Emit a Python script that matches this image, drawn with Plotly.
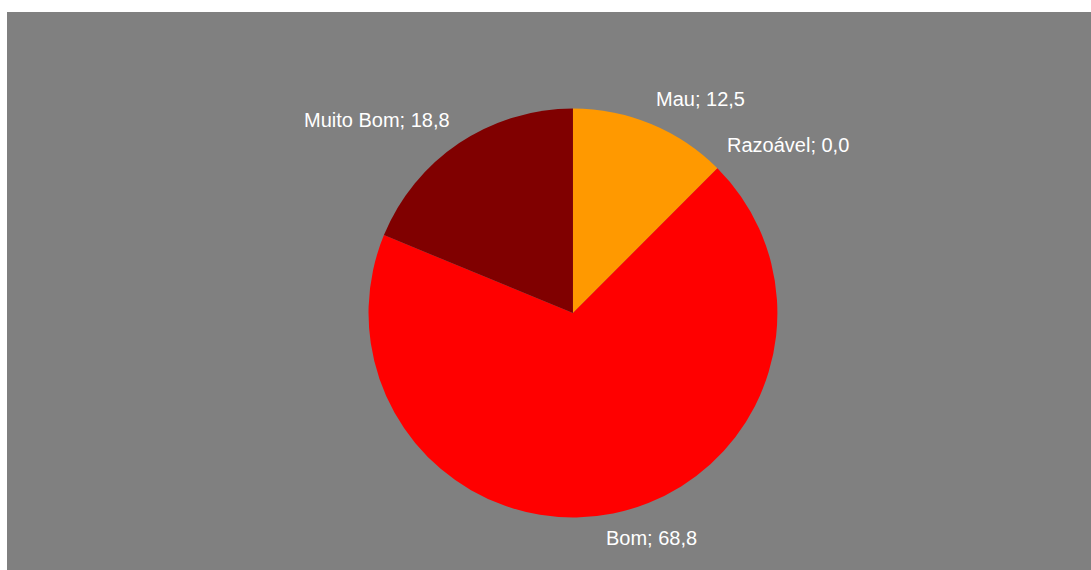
import plotly.graph_objects as go

categories = ["Mau", "Razoável", "Bom", "Muito Bom"]
values = [12.5, 0.0, 68.8, 18.8]
value_text = ["12,5", "0,0", "68,8", "18,8"]
colors = ["#FF9900", "#FFFF00", "#FF0000", "#800000"]

# label placement (paper coords)
label_x = [0.6402, 0.7209, 0.5946, 0.3409]
label_y = [0.8441, 0.7616, 0.0573, 0.8065]

fig = go.Figure()
fig.add_trace(go.Pie(
    labels=categories,
    values=values,
    sort=False,
    direction="clockwise",
    rotation=0,
    marker=dict(colors=colors, line=dict(width=0)),
    textinfo="none",
    hoverinfo="label+value",
    showlegend=False,
    domain=dict(x=[0.3335, 0.7107], y=[0.0941, 0.8271]),
))

for c, t, x, y in zip(categories, value_text, label_x, label_y):
    fig.add_annotation(
        x=x, y=y, xref="paper", yref="paper",
        text=f"{c}; {t}", showarrow=False,
        xanchor="center", yanchor="middle",
        font=dict(family="Liberation Sans, Arial, sans-serif", size=20, color="white"),
    )

fig.add_shape(type="rect", xref="paper", yref="paper", x0=0, x1=1, y0=0, y1=1,
              fillcolor="#808080", line=dict(width=0), layer="below")

fig.update_layout(
    width=1091, height=570,
    margin=dict(l=7, r=0, t=12, b=0),
    paper_bgcolor="white",
    plot_bgcolor="#808080",
)

fig.write_html(
    "out.html",
    config={"displayModeBar": False},
    post_script="document.body.style.margin='0';document.body.style.overflow='hidden';",
)
